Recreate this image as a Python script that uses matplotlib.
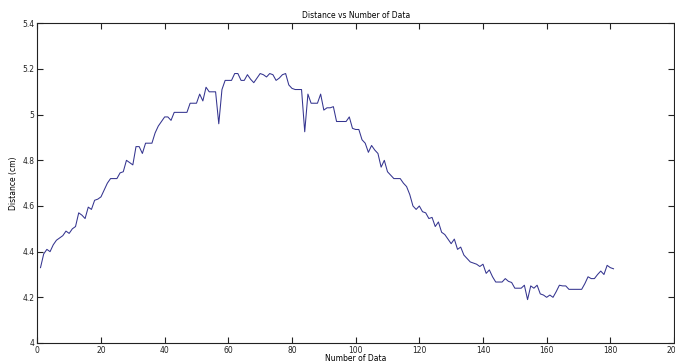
import matplotlib
matplotlib.use('Agg')
import matplotlib.pyplot as plt
from matplotlib.ticker import FuncFormatter

# Lecturas de distancia (cm), una por dato, del 1 al 181
distance = [
    4.33, 4.39, 4.41, 4.40, 4.43, 4.45, 4.46, 4.47, 4.49, 4.48,
    4.50, 4.51, 4.57, 4.56, 4.545, 4.595, 4.585, 4.625, 4.63, 4.64,
    4.67, 4.70, 4.72, 4.72, 4.72, 4.745, 4.75, 4.80, 4.79, 4.78,
    4.86, 4.86, 4.83, 4.875, 4.875, 4.875, 4.92, 4.95, 4.97, 4.99,
    4.99, 4.975, 5.01, 5.01, 5.01, 5.01, 5.01, 5.05, 5.05, 5.05,
    5.09, 5.06, 5.12, 5.10, 5.10, 5.10, 4.96, 5.11, 5.15, 5.15,
    5.15, 5.18, 5.18, 5.15, 5.15, 5.175, 5.155, 5.14, 5.16, 5.18,
    5.175, 5.165, 5.18, 5.175, 5.15, 5.16, 5.175, 5.18, 5.13, 5.115,
    5.11, 5.11, 5.11, 4.925, 5.09, 5.05, 5.05, 5.05, 5.09, 5.02,
    5.03, 5.03, 5.035, 4.97, 4.97, 4.97, 4.97, 4.99, 4.94, 4.935,
    4.935, 4.89, 4.875, 4.835, 4.865, 4.845, 4.83, 4.77, 4.80, 4.75,
    4.735, 4.72, 4.72, 4.72, 4.70, 4.685, 4.65, 4.60, 4.585, 4.60,
    4.575, 4.57, 4.545, 4.55, 4.51, 4.53, 4.485, 4.475, 4.455, 4.435,
    4.455, 4.41, 4.42, 4.385, 4.37, 4.355, 4.35, 4.345, 4.335, 4.345,
    4.305, 4.32, 4.29, 4.267, 4.267, 4.267, 4.282, 4.27, 4.265, 4.24,
    4.24, 4.24, 4.253, 4.19, 4.25, 4.24, 4.253, 4.215, 4.21, 4.20,
    4.21, 4.20, 4.225, 4.253, 4.25, 4.25, 4.235, 4.235, 4.235, 4.235,
    4.235, 4.26, 4.29, 4.282, 4.282, 4.30, 4.315, 4.30, 4.34, 4.33,
    4.325,
]
data_num = list(range(1, len(distance) + 1))

x_ticks = [0, 20, 40, 60, 80, 100, 120, 140, 160, 180, 200]
y_ticks = [4, 4.2, 4.4, 4.6, 4.8, 5, 5.2, 5.4]

fig = plt.figure(figsize=(6.75, 3.63), dpi=100)
ax = fig.add_axes([0.0553, 0.0551, 0.9432, 0.8807])

ax.plot(data_num, distance, color='#34348f', linewidth=0.75)

ax.set_xlim(0, 200)
ax.set_ylim(4, 5.4)
ax.set_xticks(x_ticks)
ax.set_yticks(y_ticks)
ax.yaxis.set_major_formatter(FuncFormatter(lambda v, p: f"{v:g}"))
ax.tick_params(direction='in', top=True, right=True, length=4, width=0.8,
               labelsize=5.5, colors='#222222', pad=2)

for s in ax.spines.values():
    s.set_linewidth(0.8)
    s.set_color('#222222')

ax.set_title('Distance vs Number of Data', fontsize=5.5, pad=4)
ax.set_xlabel('Number of Data', fontsize=5.5, labelpad=-0.5)
ax.set_ylabel('Distance (cm)', fontsize=5.5, labelpad=3)

fig.savefig('out.png', dpi=100)
